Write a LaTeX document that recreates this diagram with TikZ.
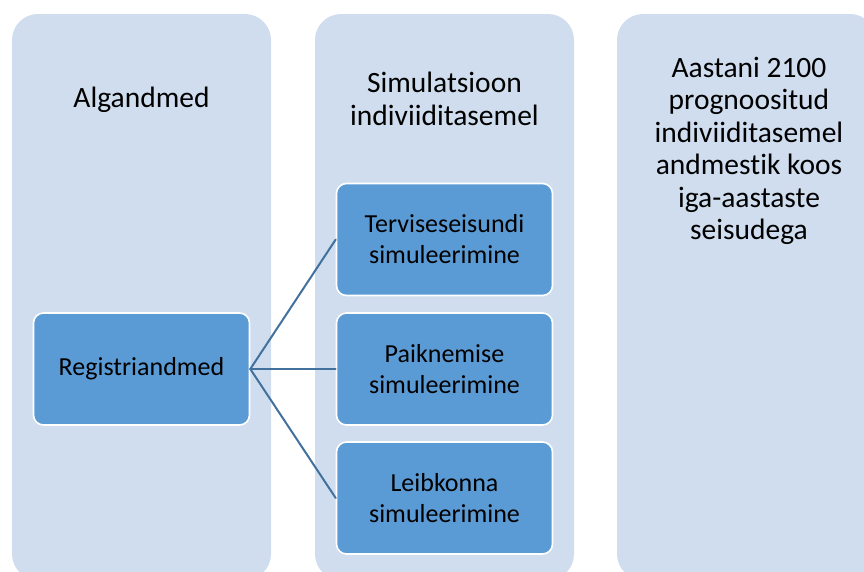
\documentclass[tikz,border=0pt]{standalone}
\usepackage{fontspec}
\setmainfont{Carlito}[Ligatures=NoCommon]
\definecolor{colfill}{HTML}{CFDDEE}
\definecolor{boxfill}{HTML}{5B9BD5}
\definecolor{linkcol}{HTML}{41719C}
\begin{document}
\begin{tikzpicture}[x=1pt,y=-1pt,line cap=round,line join=round,
  column/.style={fill=colfill,rounded corners=26pt},
  title/.style={font=\fontsize{29.5}{32.5}\selectfont,align=center,inner sep=0pt},
  simbox/.style={fill=boxfill,draw=white,line width=1.6pt,rounded corners=10pt,
    minimum width=216pt,minimum height=112pt,inner sep=0pt,align=center,
    font=\fontsize{26}{31}\selectfont},
  link/.style={draw=linkcol,line width=2pt}]
  \useasboundingbox (0,0) rectangle (864,571);
  \clip (0,0) rectangle (864,571);
  % columns
  \fill[column] (12,14) rectangle (271,580);
  \fill[column] (315,14) rectangle (574,580);
  \fill[column] (617,14) rectangle (876,580);
  \node[title,anchor=base] (alg) at (141.5,107) {Algandmed};
  \node[title] (sim) at (444.5,99) {Simulatsioon\\indiviiditasemel};
  \node[title] (res) at (749,151) {Aastani 2100\\prognoositud\\indiviiditasemel\\andmestik koos\\iga-aastaste\\seisudega};
  % boxes
  \node[simbox] (reg) at (141.5,369) {Registriandmed};
  \node[simbox] (tervis) at (444.5,239.5) {Terviseseisundi\\simuleerimine};
  \node[simbox] (paik) at (444.5,369) {Paiknemise\\simuleerimine};
  \node[simbox] (leib) at (444.5,498) {Leibkonna\\simuleerimine};
  \draw[link] (reg.east) -- (tervis.west);
  \draw[link] (reg.east) -- (paik.west);
  \draw[link] (reg.east) -- (leib.west);
\end{tikzpicture}
\end{document}
